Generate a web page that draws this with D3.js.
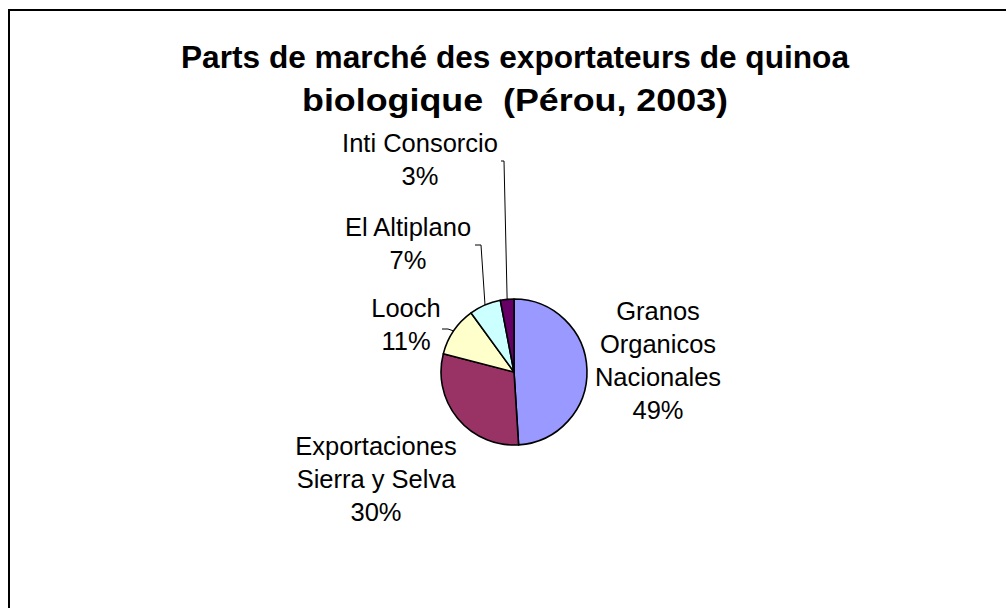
<!DOCTYPE html>
<html>
<head>
<meta charset="utf-8">
<script src="https://cdn.jsdelivr.net/npm/d3@7"></script>
<style>
  body { margin: 0; background: #fff; }
  svg { display: block; font-family: "Liberation Sans", Arial, sans-serif; }
  .title { white-space: pre; }
</style>
</head>
<body>
<svg class="chart"></svg>
<script>
const width = 1006;
const height = 608;

const titleLines = ["Parts de marché des exportateurs de quinoa", "biologique  (Pérou, 2003)"];
const categories = ["Granos Organicos Nacionales", "Exportaciones Sierra y Selva", "Looch", "El Altiplano", "Inti Consorcio"];
const values = [49, 30, 11, 7, 3];
const colors = ["#9999ff", "#993366", "#ffffcc", "#ccffff", "#660066"];

// label text lines (category split like the original), placement kept apart
const labelLines = [
  ["Granos", "Organicos", "Nacionales"],
  ["Exportaciones", "Sierra y Selva"],
  ["Looch"],
  ["El Altiplano"],
  ["Inti Consorcio"]
];
const labelPos = [
  { x: 658, y: 320 },
  { x: 376, y: 455 },
  { x: 406, y: 317 },
  { x: 408, y: 236 },
  { x: 420, y: 152 }
];
// leader line start (label side); end is on the pie edge
const leaders = [
  null,
  null,
  { x0: 442, y0: 329, x1: 448 },
  { x0: 475, y0: 245, x1: 481 },
  { x0: 501, y0: 161, x1: 504 }
];

const center = [514, 372];
const radius = 73;
const lineGap = 33;

const svg = d3.select('.chart')
  .attr('width', width).attr('height', height);

// outer frame (runs off the right/bottom edge)
svg.append('rect')
  .attr('x', 9).attr('y', 10)
  .attr('width', 1020).attr('height', 640)
  .attr('fill', '#fff')
  .attr('stroke', '#000')
  .attr('stroke-width', 2);

svg.append('g').selectAll('text')
  .data(titleLines)
  .enter()
  .append('text')
  .attr('class', 'title')
  .attr('x', 515)
  .attr('y', (d, i) => 68 + i * 43)
  .attr('text-anchor', 'middle')
  .attr('font-family', '"Liberation Sans", Arial, sans-serif')
  .attr('font-size', '32px')
  .attr('font-weight', 'bold')
  .attr('textLength', (d, i) => i === 0 ? 668 : 426)
  .attr('lengthAdjust', 'spacingAndGlyphs')
  .text(d => d);

const pie = d3.pie().sort(null).value(d => d);
const arcs = pie(values);
const arc = d3.arc().innerRadius(0).outerRadius(radius);
const edge = d3.arc().innerRadius(radius).outerRadius(radius);

const pieGroup = svg.append('g')
  .attr('transform', `translate(${center[0]},${center[1]})`);

pieGroup.selectAll('path')
  .data(arcs)
  .enter()
  .append('path')
  .attr('d', arc)
  .style('fill', (d, i) => colors[i])
  .style('stroke', '#000')
  .style('stroke-width', '1.6px')
  .style('stroke-linejoin', 'round');

// leader lines
svg.append('g').selectAll('path')
  .data(arcs.map((d, i) => ({ d, l: leaders[i] })).filter(o => o.l))
  .enter()
  .append('path')
  .attr('d', o => {
    const c = edge.centroid(o.d);
    return `M${o.l.x0},${o.l.y0}L${o.l.x1},${o.l.y0}L${center[0] + c[0]},${center[1] + c[1]}`;
  })
  .style('fill', 'none')
  .style('stroke', '#000')
  .style('stroke-width', '1px');

// data labels
const labels = svg.append('g').selectAll('text')
  .data(categories)
  .enter()
  .append('text')
  .attr('text-anchor', 'middle')
  .attr('font-size', '25.5px')
  .attr('fill', '#000');

labels.each(function (d, i) {
  const lines = labelLines[i].concat([d3.format('.0%')(values[i] / d3.sum(values))]);
  d3.select(this).selectAll('tspan')
    .data(lines)
    .enter()
    .append('tspan')
    .attr('x', labelPos[i].x)
    .attr('y', (t, j) => labelPos[i].y + j * lineGap)
    .text(t => t);
});
</script>
</body>
</html>
